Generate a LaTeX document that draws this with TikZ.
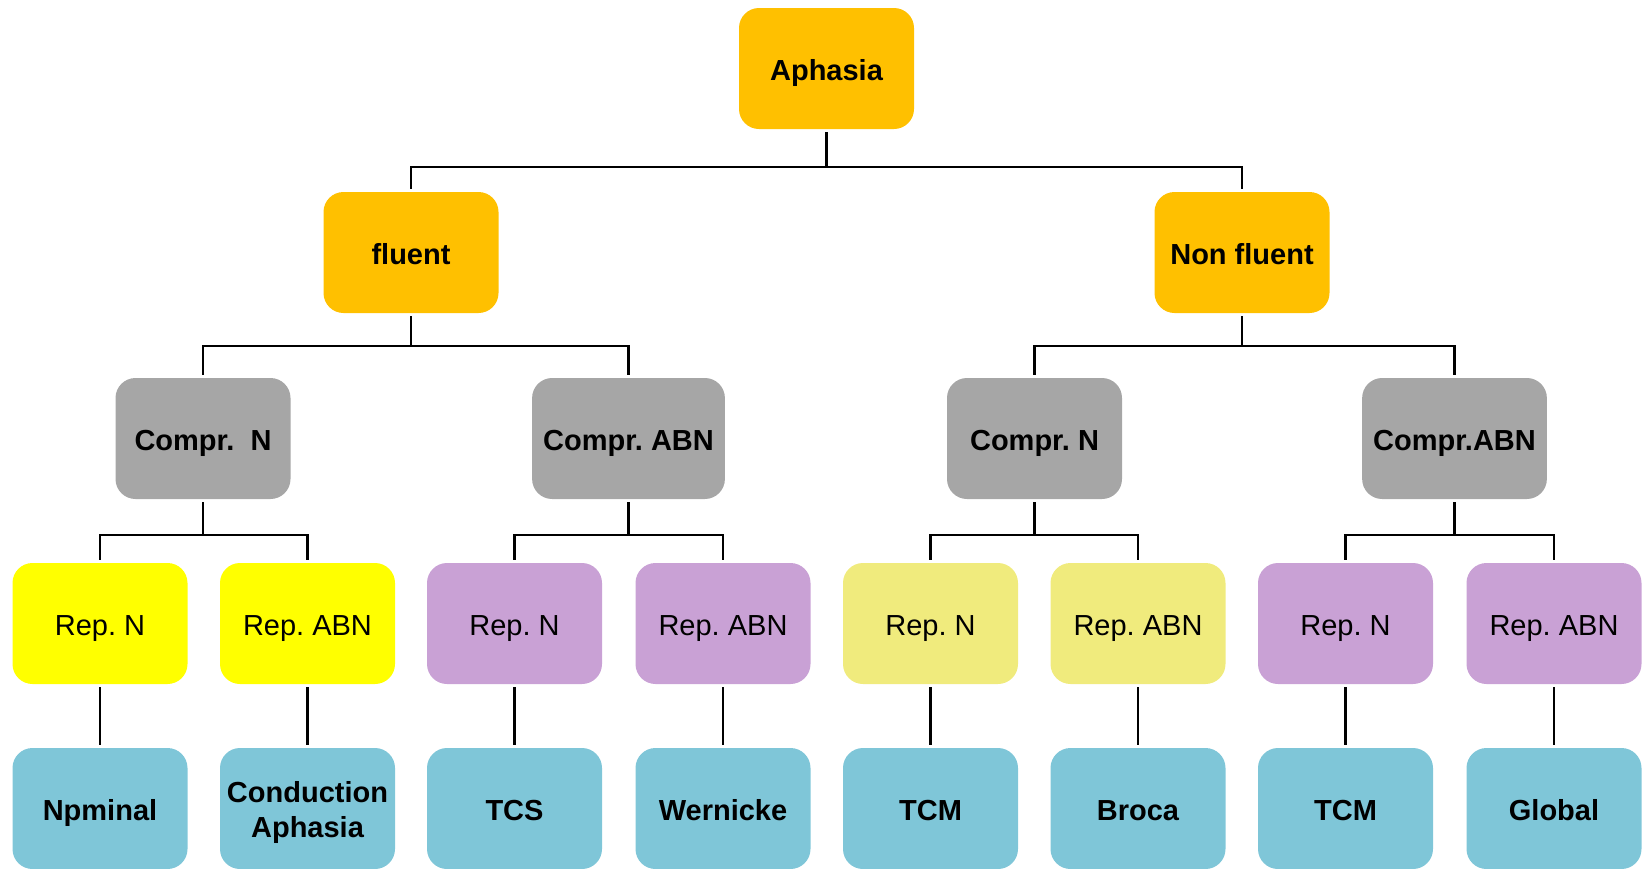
\documentclass[tikz,border=0pt]{standalone}
\usepackage{fontspec}
\setmainfont{Liberation Sans}
\definecolor{orangebox}{HTML}{FFC000}
\definecolor{graybox}{HTML}{A6A6A6}
\definecolor{yellowbox}{HTML}{FFFF00}
\definecolor{khakibox}{HTML}{F0EB7D}
\definecolor{lilacbox}{HTML}{C9A1D5}
\definecolor{cyanbox}{HTML}{7FC6D8}
\newcommand{\boxfont}{\fontsize{14.5}{17.5}\selectfont\frenchspacing}

\begin{document}
\begin{tikzpicture}[x=0.5pt,y=-0.5pt,line width=1.1pt,shorten >=1pt,shorten <=1pt]
  \tikzstyle{box}=[rectangle,rounded corners=10pt,minimum width=87.5pt,
                   minimum height=60.5pt,inner xsep=5.5pt,align=center,
                   text height=11.5pt,text depth=0pt,font=\boxfont]
  \tikzstyle{main}=[box,fill=orangebox,font=\boxfont\bfseries]
  \tikzstyle{comp}=[box,fill=graybox,font=\boxfont\bfseries]
  \tikzstyle{repy}=[box,fill=yellowbox]
  \tikzstyle{repk}=[box,fill=khakibox]
  \tikzstyle{repl}=[box,fill=lilacbox]
  \tikzstyle{leaf}=[box,fill=cyanbox,inner xsep=2pt,font=\boxfont\bfseries]

  \useasboundingbox (0,0) rectangle (1643,868);

  \node[main] (aph) at (826.5,68.5)  {Aphasia};
  \node[main] (flu) at (411,252.5)   {fluent};
  \node[main] (nfl) at (1242,252.5)  {Non fluent};

  \node[comp] (cn1) at (203,438.5)    {Compr.~~N};
  \node[comp] (ca1) at (628.5,438.5)  {Compr. ABN};
  \node[comp] (cn2) at (1034.5,438.5) {Compr. N};
  \node[comp] (ca2) at (1454.5,438.5) {Compr.ABN};

  \node[repy] (r1) at (100,623.5)    {Rep. N};
  \node[repy] (r2) at (307.5,623.5)  {Rep. ABN};
  \node[repl] (r3) at (514.5,623.5)  {Rep. N};
  \node[repl] (r4) at (723,623.5)    {Rep. ABN};
  \node[repk] (r5) at (930.5,623.5)  {Rep. N};
  \node[repk] (r6) at (1138,623.5)   {Rep. ABN};
  \node[repl] (r7) at (1345.5,623.5) {Rep. N};
  \node[repl] (r8) at (1554,623.5)   {Rep. ABN};

  \node[leaf] (t1) at (100,808.5)    {Npminal};
  \node[leaf,text height=29pt,text depth=0.5pt] (t2) at (307.5,808.5) {Conduction\\Aphasia};
  \node[leaf] (t3) at (514.5,808.5)  {TCS};
  \node[leaf] (t4) at (723,808.5)    {Wernicke};
  \node[leaf] (t5) at (930.5,808.5)  {TCM};
  \node[leaf] (t6) at (1138,808.5)   {Broca};
  \node[leaf] (t7) at (1345.5,808.5) {TCM};
  \node[leaf] (t8) at (1554,808.5)   {Global};

  % junctions
  \coordinate (j0) at (826.5,167);
  \coordinate (j1) at (411,346);
  \coordinate (j2) at (1242,346);
  \coordinate (j3) at (203,535);
  \coordinate (j4) at (628.5,535);
  \coordinate (j5) at (1034.5,535);
  \coordinate (j6) at (1454.5,535);

  \draw[shorten >=0pt] (aph.south) -- (j0);
  \draw (flu.north) |- (j0) -| (nfl.north);
  \draw[shorten >=0pt] (flu.south) -- (j1);
  \draw (cn1.north) |- (j1) -| (ca1.north);
  \draw[shorten >=0pt] (nfl.south) -- (j2);
  \draw (cn2.north) |- (j2) -| (ca2.north);

  \draw[shorten >=0pt] (cn1.south) -- (j3);
  \draw (r1.north) |- (j3) -| (r2.north);
  \draw[shorten >=0pt] (ca1.south) -- (j4);
  \draw (r3.north) |- (j4) -| (r4.north);
  \draw[shorten >=0pt] (cn2.south) -- (j5);
  \draw (r5.north) |- (j5) -| (r6.north);
  \draw[shorten >=0pt] (ca2.south) -- (j6);
  \draw (r7.north) |- (j6) -| (r8.north);

  \path (r1) edge (t1)
        (r2) edge (t2)
        (r3) edge (t3)
        (r4) edge (t4)
        (r5) edge (t5)
        (r6) edge (t6)
        (r7) edge (t7)
        (r8) edge (t8);
\end{tikzpicture}
\end{document}
